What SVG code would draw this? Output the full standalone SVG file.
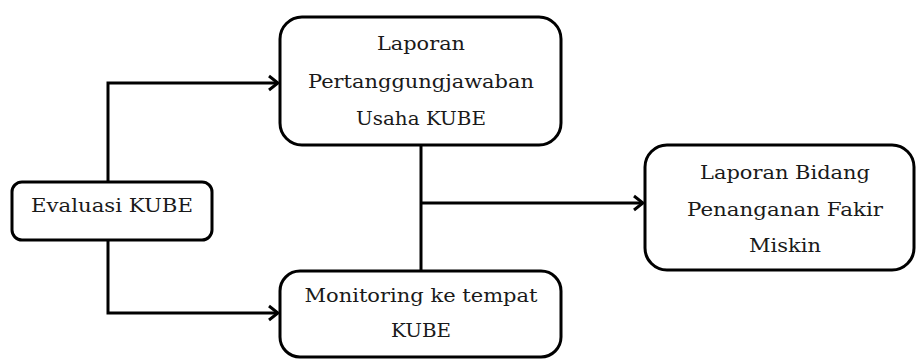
<svg xmlns="http://www.w3.org/2000/svg" width="916" height="359" viewBox="0 0 916 359">
<style>
.box{fill:#fff;stroke:#000;stroke-width:3}
.t{font-family:"DejaVu Serif","Liberation Serif",serif;font-size:19px;fill:#1a1a1a;text-anchor:middle}
.c{fill:none;stroke:#000;stroke-width:3}
</style>
<defs>
<marker id="arr" markerUnits="userSpaceOnUse" markerWidth="14" markerHeight="18" refX="12" refY="9" orient="auto">
<path d="M3,2 L12,9 L3,16" fill="none" stroke="#000" stroke-width="3"/>
</marker>
</defs>
<rect width="916" height="359" fill="#fff"/>
<g id="connectors">
<polyline class="c" points="108,182 108,83 278,83" marker-end="url(#arr)"/>
<polyline class="c" points="108,240 108,313 278,313" marker-end="url(#arr)"/>
<line class="c" x1="421" y1="145" x2="421" y2="271"/>
<line class="c" x1="421" y1="203" x2="643" y2="203" marker-end="url(#arr)"/>
</g>
<g id="laporan-pertanggungjawaban">
<rect class="box" x="280" y="17" width="281" height="128" rx="22"/>
<text class="t" x="421" y="50" textLength="88" lengthAdjust="spacingAndGlyphs">Laporan</text>
<text class="t" x="421" y="88" textLength="226" lengthAdjust="spacingAndGlyphs">Pertanggungjawaban</text>
<text class="t" x="421" y="125" textLength="130" lengthAdjust="spacingAndGlyphs">Usaha KUBE</text>
</g>
<g id="evaluasi">
<rect class="box" x="12" y="182" width="200" height="58" rx="10"/>
<text class="t" x="112" y="212" textLength="162" lengthAdjust="spacingAndGlyphs">Evaluasi KUBE</text>
</g>
<g id="monitoring">
<rect class="box" x="280" y="271" width="281" height="86" rx="20"/>
<text class="t" x="421" y="302" textLength="233" lengthAdjust="spacingAndGlyphs">Monitoring ke tempat</text>
<text class="t" x="421" y="337" textLength="60" lengthAdjust="spacingAndGlyphs">KUBE</text>
</g>
<g id="laporan-bidang">
<rect class="box" x="645" y="145" width="269" height="125" rx="22"/>
<text class="t" x="785" y="179" textLength="170" lengthAdjust="spacingAndGlyphs">Laporan Bidang</text>
<text class="t" x="785" y="216" textLength="196" lengthAdjust="spacingAndGlyphs">Penanganan Fakir</text>
<text class="t" x="785" y="252" textLength="72" lengthAdjust="spacingAndGlyphs">Miskin</text>
</g>
</svg>
